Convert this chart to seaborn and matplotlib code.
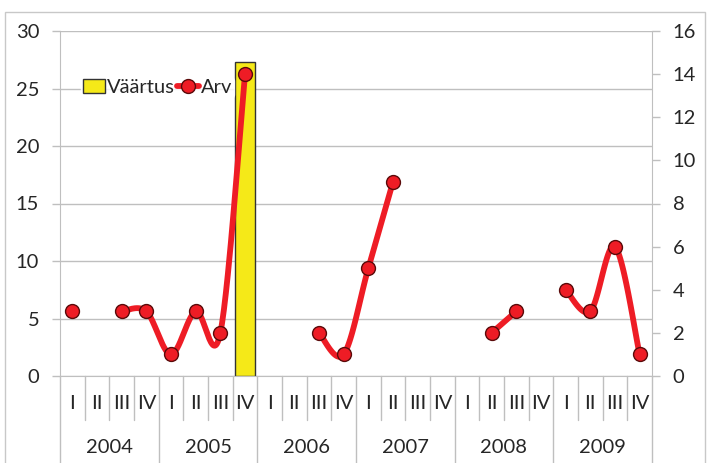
import numpy as np
import pandas as pd
import seaborn as sns
import matplotlib.pyplot as plt
from matplotlib.patches import Patch, Rectangle
from matplotlib.lines import Line2D

# Andmed
years = ["2004", "2005", "2006", "2007", "2008", "2009"]
quarters = ["I", "II", "III", "IV"]
vaartus = [np.nan] * 7 + [27.3] + [np.nan] * 16
arv = [3, np.nan, 3, 3, 1, 3, 2, 14, np.nan, np.nan, 2, 1,
       5, 9, np.nan, np.nan, np.nan, 2, 3, np.nan, 4, 3, 6, 1]

keys = [f"{y} {q}" for y in years for q in quarters]
df = pd.DataFrame({"key": keys, "Väärtus": vaartus, "Arv": arv})

sns.set_style("white")
plt.rcParams["font.family"] = ["Lato", "DejaVu Sans"]
txt = "#262626"
grid = "#BFBFBF"
yellow = "#F5E918"
red = "#EE1C25"
fs = 14.5

fig = plt.figure(figsize=(7.08, 4.63), dpi=100)
ax = fig.add_axes([60 / 708, 1 - 376 / 463, 592 / 708, 345 / 463])

# tulp (vasak telg)
sns.barplot(data=df.dropna(subset=["Väärtus"]), x="key", y="Väärtus", order=keys,
            color=yellow, saturation=1, width=0.8, edgecolor="#333333",
            linewidth=1, ax=ax, zorder=2)
ax.set_xlim(-0.5, len(keys) - 0.5)
ax.set_ylim(0, 30)
ax.set_yticks(range(0, 31, 5))
ax.set_xlabel("")
ax.set_ylabel("")
ax.set_xticks([])
ax.yaxis.grid(True, color=grid, lw=1, zorder=0)
ax.set_axisbelow(True)
ax.spines["top"].set_visible(False)
for s in ["left", "bottom", "right"]:
    ax.spines[s].set_color(grid)
ax.tick_params(axis="y", labelsize=fs, colors=grid, labelcolor=txt,
               length=6, width=1, pad=9, left=True)

# joon (parem telg), silutud nagu Excelis
ax2 = ax.twinx()
ax2.set_ylim(0, 16)
ax2.set_yticks(range(0, 17, 2))
ax2.tick_params(axis="y", labelsize=fs, colors=grid, labelcolor=txt,
                length=6, width=1, pad=9)
for s in ax2.spines.values():
    s.set_visible(False)


def smooth(xs, ys, n=30):
    px, py = [], []
    P = np.column_stack([xs, ys]).astype(float)
    for i in range(len(P) - 1):
        p0 = P[i - 1] if i > 0 else P[i]
        p1, p2 = P[i], P[i + 1]
        p3 = P[i + 2] if i + 2 < len(P) else P[i + 1]
        c1 = p1 + (p2 - p0) / 6
        c2 = p2 - (p3 - p1) / 6
        t = np.linspace(0, 1, n)[:, None]
        b = ((1 - t) ** 3) * p1 + 3 * ((1 - t) ** 2) * t * c1 + 3 * (1 - t) * t ** 2 * c2 + t ** 3 * p2
        px.extend(b[:, 0])
        py.extend(b[:, 1])
    return px, py


idx = np.arange(len(arv))
vals = np.array(arv, dtype=float)
ok = ~np.isnan(vals)
seg_id = np.cumsum(~ok)
for g in np.unique(seg_id[ok]):
    m = ok & (seg_id == g)
    if m.sum() > 1:
        sx, sy = smooth(idx[m], vals[m])
        ax2.plot(sx, sy, color=red, lw=4.2, solid_capstyle="round", zorder=3)

pts = df.dropna(subset=["Arv"]).assign(pos=lambda d: d.index)
sns.scatterplot(data=pts, x="pos", y="Arv", ax=ax2, color=red, s=100,
                edgecolor="#5A0A0A", linewidth=1, zorder=4, legend=False)
ax2.set_xlabel("")
ax2.set_ylabel("")
ax2.set_xlim(-0.5, len(keys) - 0.5)
ax2.set_xticks([])

# kategooriatelg
xt = ax.get_xaxis_transform()
for i, k in enumerate(keys):
    ax.text(i, -0.08, quarters[i % 4], transform=xt, ha="center", va="center",
            fontsize=fs, color=txt)
for i in range(len(keys) + 1):
    bottom = -0.26 if i % 4 == 0 else -0.128
    ax.plot([i - 0.5, i - 0.5], [0, bottom], transform=xt, color=grid,
            lw=1, clip_on=False)
for j, y in enumerate(years):
    ax.text(j * 4 + 1.5, -0.208, y, transform=xt, ha="center", va="center",
            fontsize=fs, color=txt)

# legend
handles = [Patch(facecolor=yellow, edgecolor="#333333", lw=1),
           Line2D([0], [0], color=red, lw=4.2, marker="o", markersize=10,
                  markerfacecolor=red, markeredgecolor="#5A0A0A")]
leg = ax2.legend(handles, ["Väärtus", "Arv"], ncol=2, loc="center left",
                 bbox_to_anchor=(0.035, 0.835), frameon=True, fontsize=fs,
                 handlelength=1.1, handletextpad=0.1, columnspacing=0.1,
                 borderpad=0.1, borderaxespad=0)
leg.get_frame().set_facecolor("white")
leg.get_frame().set_edgecolor("white")
for t in leg.get_texts():
    t.set_color(txt)

# välimine raam
fig.patches.append(Rectangle((5 / 708, -0.01), 700 / 708, 1 - 12 / 463 + 0.01,
                             transform=fig.transFigure, fill=False,
                             edgecolor="#C8C8C8", lw=1))

plt.savefig("out.png", dpi=100)
plt.close()
